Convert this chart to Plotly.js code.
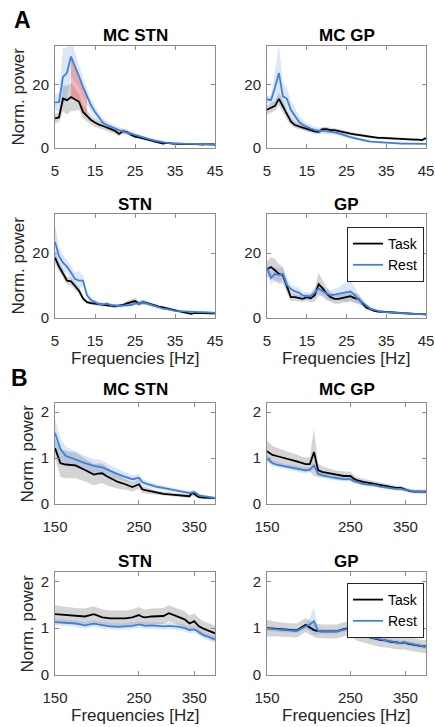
<!DOCTYPE html>
<html><head><meta charset="utf-8">
<script src="https://cdn.plot.ly/plotly-3.0.1.min.js"></script>
<style>html,body{margin:0;padding:0;background:#fff}#chart{width:435px;height:727px}</style>
</head><body><div id="chart"></div>
<script>
// ---------- Section A: 5-45 Hz ----------
const freqA = [5,6,7,8,9,10,11,12,13,14,15,16,17,18,19,20,21,22,23,24,25,26,27,28,29,30,31,32,33,34,35,36,37,38,39,40,41,42,43,44,45];

const mcStnA_task   = [9.3,9.6,15.5,15.0,16.0,15.2,14.5,11.3,10.0,8.8,8.0,7.3,6.9,6.3,5.9,5.4,4.4,5.3,5.0,4.2,3.6,3.3,3.0,2.7,2.4,2.0,1.7,1.4,1.6,1.4,1.3,1.3,1.2,1.2,1.3,1.2,1.2,1.1,1.2,1.1,1.1];
const mcStnA_taskSd = [1.5,1.5,4,4.5,4.5,3.5,2.5,2,1.8,1.5,1.3,1.2,1.1,1,1,0.9,0.8,0.8,0.8,0.7,0.6,0.6,0.5,0.5,0.5,0.4,0.4,0.3,0.3,0.3,0.3,0.3,0.3,0.3,0.3,0.2,0.2,0.2,0.2,0.2,0.2];
const mcStnA_rest   = [14.3,14.4,22.3,23.6,28.7,25.3,22.5,19.2,16.0,13.4,11.3,9.4,7.9,7.2,6.6,6.1,5.6,5.2,4.8,4.5,4.1,3.7,3.3,2.9,2.6,2.3,2.0,1.8,1.6,1.5,1.4,1.4,1.3,1.3,1.3,1.2,1.2,1.2,1.2,1.1,1.1];
const mcStnA_restSd = [2.5,3,9,8,6,4.5,3.5,3,2.5,2,1.8,1.5,1.3,1.2,1.1,1,0.9,0.8,0.7,0.7,0.6,0.6,0.5,0.5,0.5,0.4,0.4,0.4,0.3,0.3,0.3,0.3,0.3,0.3,0.3,0.2,0.2,0.2,0.2,0.2,0.2];
const mcStnA_sigBand = [9,13];

const mcGpA_task   = [12.0,12.7,13.2,15.4,13.0,10.4,8.3,7.2,6.9,6.4,6.0,5.6,5.2,5.1,5.9,5.9,5.6,5.6,5.3,4.9,4.8,4.5,4.3,4.1,3.9,3.6,3.5,3.3,3.2,3.2,3.1,3.1,3.0,3.0,2.9,2.8,2.7,2.6,2.6,2.5,3.1];
const mcGpA_taskSd = [1.5,1.5,1.5,2,2,1.5,1.2,1,0.9,0.8,0.7,0.7,0.7,0.7,0.8,0.8,0.7,0.6,0.6,0.6,0.5,0.5,0.5,0.5,0.4,0.4,0.4,0.4,0.4,0.4,0.4,0.4,0.4,0.4,0.4,0.4,0.4,0.4,0.4,0.4,0.5];
const mcGpA_rest   = [15.3,15.0,19.0,23.5,16.2,15.5,12.0,10.0,8.3,7.3,6.6,6.1,5.7,5.4,5.4,5.3,5.1,4.9,4.6,4.2,3.6,3.4,3.1,2.8,2.5,2.2,2.0,1.9,1.8,1.7,1.6,1.5,1.5,1.5,1.4,1.4,1.4,1.3,1.3,1.3,1.3];
const mcGpA_restSd = [1,1.5,5,9,4,3.5,3,2.5,2,1.5,1.3,1.2,1,1,0.9,0.9,0.8,0.8,0.7,0.7,0.6,0.6,0.5,0.5,0.5,0.4,0.4,0.4,0.3,0.3,0.3,0.3,0.3,0.3,0.3,0.3,0.3,0.3,0.3,0.3,0.3];

const stnA_task   = [18.6,15.8,13.7,11.5,11.3,9.8,8.4,6.0,4.9,4.6,4.4,4.2,4.0,3.9,3.8,3.6,3.8,4.0,4.5,4.9,5.2,4.4,4.9,4.6,4.2,3.8,3.5,3.3,3.0,2.6,2.2,2.0,1.8,1.6,1.3,1.6,1.5,1.5,1.4,1.4,1.4];
const stnA_taskSd = [2,1.5,1.5,1.2,1.2,1.2,1,0.8,0.6,0.5,0.5,0.5,0.5,0.5,0.5,0.5,0.5,0.6,0.7,0.9,1,0.8,0.8,0.6,0.5,0.5,0.4,0.4,0.4,0.3,0.3,0.3,0.3,0.3,0.3,0.3,0.3,0.3,0.3,0.3,0.3];
const stnA_rest   = [23.5,19.0,17.0,15.8,14.0,12.0,11.5,11.5,7.0,5.5,4.9,4.3,4.2,4.4,4.0,3.8,3.7,3.8,3.9,4.0,4.4,4.6,4.7,4.4,4.0,3.5,3.2,2.9,2.7,2.4,2.2,2.1,2.0,2.0,1.9,1.9,1.8,1.8,1.7,1.7,1.6];
const stnA_restSd = [5.5,3,2.5,2,2,2,3,1.5,1,0.8,0.7,0.6,0.6,0.6,0.5,0.5,0.5,0.5,0.5,0.5,0.6,0.6,0.6,0.5,0.5,0.5,0.4,0.4,0.4,0.3,0.3,0.3,0.3,0.3,0.3,0.3,0.3,0.3,0.3,0.3,0.3];

const gpA_task   = [15.0,15.7,14.7,13.6,13.2,9.6,6.4,6.4,6.1,5.9,6.4,6.1,7.0,10.4,9.1,7.5,6.4,5.9,5.9,6.1,6.4,6.7,6.1,5.9,4.6,3.2,2.7,2.2,2.0,1.9,1.8,1.7,1.6,1.5,1.4,1.4,1.3,1.3,1.2,1.2,1.1];
const gpA_taskSd = [2.5,3,3.5,3,2.5,2,1.2,1,1,1,1,1.2,2,3.5,2.5,2,1.5,1.5,1.5,1.5,1.5,1.5,1.5,1.5,1,0.8,0.5,0.4,0.3,0.3,0.3,0.3,0.3,0.3,0.3,0.3,0.3,0.3,0.3,0.3,0.3];
const gpA_rest   = [15.5,12.3,13.6,13.2,13.6,10.2,8.9,8.2,7.8,7.0,6.7,6.7,7.8,9.1,8.2,7.5,7.0,7.2,7.5,7.8,8.0,8.2,7.2,5.7,4.8,3.7,2.9,2.5,2.1,1.9,1.8,1.7,1.6,1.5,1.4,1.4,1.3,1.3,1.2,1.2,1.1];
const gpA_restSd = [1.5,2,2,2,2,2,1.5,1.5,1.5,1.2,1.2,1.2,1.5,1.5,1.5,1.5,1.5,1.8,2,2.5,3,3,2.5,1.5,1,0.8,0.5,0.4,0.3,0.3,0.3,0.3,0.3,0.3,0.3,0.3,0.3,0.3,0.3,0.3,0.3];

// ---------- Section B: 150-400 Hz ----------
const freqB = [150,155,160,170,180,190,195,200,205,210,220,230,240,250,255,260,270,280,290,300,310,320,330,340,345,350,355,360,370,380,390,397];

const mcStnB_task   = [1.22,0.89,0.86,0.84,0.74,0.64,0.66,0.67,0.61,0.56,0.48,0.43,0.37,0.43,0.32,0.30,0.27,0.24,0.22,0.21,0.20,0.19,0.18,0.17,0.24,0.22,0.18,0.15,0.14,0.13,0.13,0.13];
const mcStnB_taskSd = [0.2,0.3,0.3,0.28,0.25,0.23,0.22,0.21,0.2,0.18,0.15,0.12,0.1,0.1,0.08,0.07,0.06,0.05,0.05,0.04,0.04,0.04,0.04,0.04,0.06,0.05,0.04,0.03,0.03,0.03,0.03,0.03];
const mcStnB_rest   = [1.55,1.2,1.05,0.96,0.89,0.83,0.82,0.80,0.76,0.72,0.65,0.59,0.54,0.57,0.48,0.45,0.41,0.37,0.35,0.32,0.30,0.28,0.26,0.24,0.25,0.26,0.23,0.19,0.17,0.16,0.14,0.13];
const mcStnB_restSd = [0.3,0.25,0.2,0.18,0.16,0.15,0.15,0.14,0.13,0.12,0.11,0.1,0.09,0.08,0.07,0.07,0.06,0.05,0.05,0.05,0.04,0.04,0.04,0.04,0.04,0.04,0.04,0.03,0.03,0.03,0.03,0.03];

const mcGpB_task   = [1.15,1.07,1.04,0.99,0.93,0.87,0.87,1.13,0.74,0.70,0.67,0.63,0.61,0.61,0.55,0.52,0.48,0.46,0.44,0.41,0.39,0.37,0.35,0.35,0.33,0.31,0.30,0.28,0.27,0.27,0.27,0.27];
const mcGpB_taskSd = [0.22,0.2,0.18,0.16,0.15,0.14,0.16,0.52,0.15,0.12,0.1,0.1,0.1,0.1,0.08,0.07,0.07,0.06,0.06,0.06,0.05,0.05,0.05,0.05,0.05,0.04,0.04,0.04,0.04,0.04,0.04,0.04];
const mcGpB_rest   = [1.0,0.89,0.85,0.81,0.76,0.73,0.75,0.84,0.66,0.63,0.59,0.56,0.54,0.54,0.50,0.48,0.44,0.42,0.41,0.38,0.36,0.35,0.33,0.33,0.32,0.32,0.31,0.30,0.27,0.27,0.26,0.26];
const mcGpB_restSd = [0.08,0.07,0.06,0.06,0.06,0.06,0.06,0.08,0.06,0.06,0.06,0.05,0.05,0.05,0.05,0.05,0.04,0.04,0.04,0.04,0.04,0.04,0.04,0.04,0.04,0.04,0.04,0.04,0.04,0.04,0.04,0.04];

const stnB_task   = [1.30,1.29,1.28,1.26,1.25,1.30,1.26,1.23,1.22,1.21,1.21,1.21,1.23,1.28,1.24,1.23,1.25,1.25,1.26,1.32,1.28,1.23,1.19,1.10,1.13,1.15,1.09,1.04,0.99,0.95,0.90,0.89];
const stnB_taskSd = [0.19,0.18,0.18,0.17,0.17,0.17,0.17,0.17,0.17,0.17,0.17,0.17,0.17,0.17,0.17,0.17,0.17,0.17,0.17,0.17,0.17,0.17,0.17,0.17,0.17,0.17,0.17,0.17,0.16,0.16,0.16,0.16];
const stnB_rest   = [1.13,1.12,1.11,1.10,1.06,1.10,1.08,1.06,1.05,1.04,1.03,1.04,1.05,1.08,1.06,1.05,1.06,1.05,1.04,1.05,1.04,1.03,1.00,0.96,0.97,0.97,0.95,0.92,0.85,0.82,0.78,0.76];
const stnB_restSd = [0.07,0.07,0.07,0.07,0.07,0.07,0.07,0.07,0.07,0.07,0.07,0.07,0.07,0.07,0.07,0.07,0.07,0.07,0.07,0.07,0.07,0.07,0.07,0.07,0.07,0.07,0.07,0.07,0.07,0.07,0.07,0.07];

const gpB_task   = [1.0,0.99,0.98,0.96,0.95,1.07,1.02,0.96,0.94,0.93,0.93,0.93,0.98,1.0,0.93,0.88,0.84,0.81,0.78,0.75,0.74,0.71,0.70,0.68,0.69,0.69,0.67,0.66,0.64,0.62,0.61,0.61];
const gpB_taskSd = [0.18,0.16,0.15,0.15,0.15,0.15,0.15,0.15,0.15,0.15,0.15,0.15,0.15,0.15,0.15,0.15,0.15,0.15,0.15,0.15,0.15,0.14,0.14,0.14,0.14,0.14,0.14,0.14,0.14,0.14,0.14,0.14];
const gpB_rest   = [0.99,0.98,0.97,0.95,0.94,1.04,1.08,1.15,0.94,0.93,0.93,0.93,0.97,0.99,0.93,0.88,0.84,0.81,0.78,0.76,0.74,0.72,0.70,0.68,0.70,0.69,0.67,0.66,0.64,0.62,0.61,0.60];
const gpB_restSd = [0.05,0.05,0.05,0.05,0.05,0.06,0.15,0.3,0.08,0.05,0.05,0.05,0.05,0.05,0.05,0.05,0.05,0.05,0.05,0.05,0.05,0.05,0.05,0.05,0.05,0.05,0.05,0.05,0.05,0.05,0.05,0.05];

const panelTitles = ['MC STN','MC GP','STN','GP','MC STN','MC GP','STN','GP'];
const seriesNames = ['Task','Rest'];
const ticksA = [5,15,25,35,45];
const ticksB = [150,250,350];
const yticksA = [0,20];
const yticksB = [0,1,2];

// ---------- styling ----------
const FONT = 'Liberation Sans, Arial, Helvetica, sans-serif';
const TASK_COLOR = '#000000';
const REST_COLOR = '#3f80dc';
const TASK_FILL = 'rgba(120,120,120,0.32)';
const REST_FILL = 'rgba(90,145,225,0.22)';
const SIG_FILL = 'rgba(235,90,90,0.45)';

const panels = [
  {f: freqA, t: mcStnA_task, ts: mcStnA_taskSd, r: mcStnA_rest, rs: mcStnA_restSd, sig: mcStnA_sigBand},
  {f: freqA, t: mcGpA_task, ts: mcGpA_taskSd, r: mcGpA_rest, rs: mcGpA_restSd},
  {f: freqA, t: stnA_task, ts: stnA_taskSd, r: stnA_rest, rs: stnA_restSd},
  {f: freqA, t: gpA_task, ts: gpA_taskSd, r: gpA_rest, rs: gpA_restSd, legend: 'legend'},
  {f: freqB, t: mcStnB_task, ts: mcStnB_taskSd, r: mcStnB_rest, rs: mcStnB_restSd},
  {f: freqB, t: mcGpB_task, ts: mcGpB_taskSd, r: mcGpB_rest, rs: mcGpB_restSd},
  {f: freqB, t: stnB_task, ts: stnB_taskSd, r: stnB_rest, rs: stnB_restSd},
  {f: freqB, t: gpB_task, ts: gpB_taskSd, r: gpB_rest, rs: gpB_restSd, legend: 'legend2'}
];

const W = 435, H = 727;
const colPx = [[55,215],[267,426]];
const rowPx = [[46,148],[214,318],[403,504],[572,675]];

function band(f, m, s, color, xa, ya) {
  const up = m.map((v,i)=>v+s[i]);
  const lo = m.map((v,i)=>v-s[i]);
  return {x: f.concat(f.slice().reverse()), y: up.concat(lo.slice().reverse()),
    xaxis: xa, yaxis: ya, type: 'scatter', mode: 'lines', fill: 'toself',
    fillcolor: color, line: {width: 0}, hoverinfo: 'skip', showlegend: false};
}

const traces = [];
const layout = {
  width: W, height: H, margin: {l:0, r:0, t:0, b:0},
  paper_bgcolor: '#fff', plot_bgcolor: '#fff',
  font: {family: FONT, color: '#262626'},
  showlegend: true, annotations: []
};

panels.forEach((p, k) => {
  const idx = k + 1;
  const xa = idx === 1 ? 'x' : 'x' + idx;
  const ya = idx === 1 ? 'y' : 'y' + idx;
  const col = k % 2, row = Math.floor(k / 2);
  const isB = k >= 4;
  traces.push(band(p.f, p.t, p.ts, TASK_FILL, xa, ya));
  traces.push(band(p.f, p.r, p.rs, REST_FILL, xa, ya));
  if (p.sig) {
    const ii = p.f.map((v,i)=>i).filter(i => p.f[i] >= p.sig[0] && p.f[i] <= p.sig[1]);
    const fx = ii.map(i=>p.f[i]);
    traces.push({x: fx.concat(fx.slice().reverse()),
      y: ii.map(i=>p.r[i]).concat(ii.map(i=>p.t[i]).reverse()),
      xaxis: xa, yaxis: ya, type:'scatter', mode:'lines', fill:'toself',
      fillcolor: SIG_FILL, line:{width:0}, hoverinfo:'skip', showlegend:false});
  }
  const lg = p.legend;
  traces.push({x: p.f, y: p.t, xaxis: xa, yaxis: ya, type:'scatter', mode:'lines',
    name: seriesNames[0], line:{color: TASK_COLOR, width: 1.8},
    showlegend: !!lg, legend: lg || 'legend'});
  traces.push({x: p.f, y: p.r, xaxis: xa, yaxis: ya, type:'scatter', mode:'lines',
    name: seriesNames[1], line:{color: REST_COLOR, width: 1.8},
    showlegend: !!lg, legend: lg || 'legend'});

  const axCommon = {
    ticks: 'inside', ticklen: 4, tickcolor: '#8c8c8c', tickwidth: 1,
    showline: true, linecolor: '#8c8c8c', linewidth: 1, mirror: 'ticks',
    showgrid: false, zeroline: false, fixedrange: true,
    tickfont: {family: FONT, size: 15, color: '#262626'}
  };
  const xd = [colPx[col][0]/W, colPx[col][1]/W];
  const yd = [1 - rowPx[row][1]/H, 1 - rowPx[row][0]/H];
  layout['xaxis' + (idx === 1 ? '' : idx)] = Object.assign({}, axCommon, {
    domain: xd, anchor: ya,
    type: isB ? 'log' : 'linear',
    range: isB ? [Math.log10(150), Math.log10(397)] : [5, 45],
    tickmode: 'array', tickvals: isB ? ticksB : ticksA,
    ticktext: (isB ? ticksB : ticksA).map(String),
    ticklabelstandoff: 9
  });
  layout['yaxis' + (idx === 1 ? '' : idx)] = Object.assign({}, axCommon, {
    domain: yd, anchor: xa,
    range: isB ? [0, 2.2] : [0, 32],
    tickmode: 'array', tickvals: isB ? yticksB : yticksA,
    ticktext: (isB ? yticksB : yticksA).map(String),
    ticklabelstandoff: 2
  });

  // panel title
  const titleY = [35, 204, 389, 561][row];
  layout.annotations.push({text: '<b>' + panelTitles[k] + '</b>', xref:'paper', yref:'paper',
    x: (colPx[col][0]+colPx[col][1])/2/W, y: 1 - titleY/H, xanchor:'center', yanchor:'middle',
    showarrow:false, font:{family: FONT, size: 17, color:'#000'}});
  // y title
  if (col === 0) {
    layout.annotations.push({text: 'Norm. power', xref:'paper', yref:'paper',
      x: (isB ? 27 : 18.5)/W, y: 1 - (rowPx[row][0]+rowPx[row][1])/2/H, textangle: -90,
      xanchor:'center', yanchor:'middle', showarrow:false,
      font:{family: FONT, size: 17, color:'#262626'}});
  }
  // x title
  if (row === 1 || row === 3) {
    const xt = row === 1 ? 358 : 715;
    layout.annotations.push({text: 'Frequencies [Hz]', xref:'paper', yref:'paper',
      x: (colPx[col][0]+colPx[col][1])/2/W, y: 1 - xt/H, xanchor:'center', yanchor:'middle',
      showarrow:false, font:{family: FONT, size: 17, color:'#262626'}});
  }
});

layout.annotations.push({text:'<b>A</b>', xref:'paper', yref:'paper', x: 22/W, y: 1-20/H,
  xanchor:'center', yanchor:'middle', showarrow:false, font:{family: FONT, size: 23, color:'#000'}});
layout.annotations.push({text:'<b>B</b>', xref:'paper', yref:'paper', x: 19/W, y: 1-378/H,
  xanchor:'center', yanchor:'middle', showarrow:false, font:{family: FONT, size: 23, color:'#000'}});

const legendCommon = {xref:'paper', yref:'paper', xanchor:'left', yanchor:'top',
  bgcolor:'#fff', bordercolor:'#262626', borderwidth: 1, itemwidth: 30,
  font:{family: FONT, size: 14, color:'#000'}, tracegroupgap: 0};
layout.legend = Object.assign({}, legendCommon, {x: 347/W, y: 1 - 227/H});
layout.legend2 = Object.assign({}, legendCommon, {x: 347/W, y: 1 - 583/H});

Plotly.newPlot('chart', traces, layout, {staticPlot: true, displayModeBar: false});
</script>
</body></html>
